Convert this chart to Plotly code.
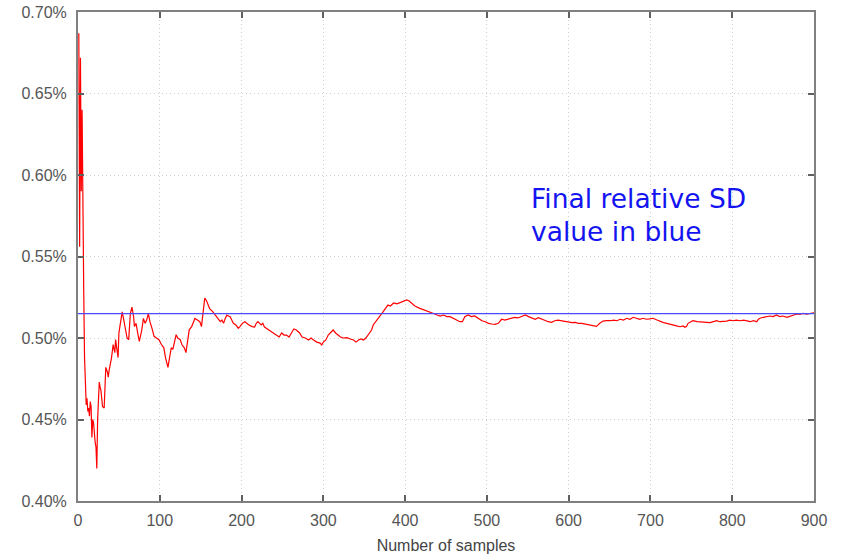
import plotly.graph_objects as go

samples = [
    1, 2, 3, 4, 5, 6, 7, 8, 9, 10,
    11, 12, 13, 14, 15, 16, 17, 18, 19, 20,
    21, 22, 23, 24, 25, 26, 27, 28, 30, 32,
    34, 36, 37, 38, 41, 43, 45, 46, 47, 49,
    50, 52, 54, 56, 58, 60, 62, 64, 66, 68,
    69, 71, 73, 75, 78, 80, 82, 84, 86, 88,
    91, 93, 96, 99, 102, 105, 107, 110, 112, 114,
    116, 118, 120, 122, 125, 127, 130, 132, 134, 136,
    139, 141, 143, 146, 149, 151, 153, 155, 157, 159,
    161, 165, 168, 170, 172, 174, 176, 178, 180, 182,
    184, 186, 188, 190, 193, 196, 198, 201, 204, 207,
    209, 213, 216, 218, 220, 224, 226, 228, 230, 234,
    238, 243, 246, 249, 252, 255, 258, 261, 264, 267,
    271, 274, 278, 282, 285, 288, 292, 296, 298, 300,
    303, 306, 309, 312, 315, 318, 321, 324, 329, 333,
    337, 340, 343, 346, 349, 352, 355, 357, 359, 361,
    364, 367, 370, 373, 377, 379, 382, 386, 390, 394,
    398, 402, 405, 408, 412, 418, 424, 430, 434, 439,
    443, 447, 451, 455, 459, 463, 467, 470, 473, 477,
    481, 485, 489, 494, 498, 502, 506, 510, 514, 518,
    522, 526, 530, 534, 538, 543, 547, 551, 555, 559,
    563, 567, 571, 575, 579, 583, 587, 591, 596, 600,
    604, 608, 612, 616, 620, 624, 628, 631, 634, 638,
    642, 646, 651, 655, 659, 663, 667, 671, 675, 679,
    683, 687, 691, 695, 699, 703, 708, 712, 716, 720,
    724, 728, 732, 736, 740, 742, 744, 746, 749, 752,
    757, 761, 765, 769, 773, 777, 781, 785, 789, 793,
    797, 801, 805, 810, 814, 818, 822, 826, 830, 832,
    834, 838, 842, 846, 850, 854, 858, 862, 867, 871,
    875, 879, 883, 887, 891, 895, 900,
]

rel_sd = [
    0.687, 0.556, 0.672, 0.590, 0.640, 0.556, 0.529, 0.488, 0.462, 0.459,
    0.463, 0.455, 0.457, 0.452, 0.461, 0.458, 0.439, 0.450, 0.448, 0.437,
    0.436, 0.433, 0.420, 0.450, 0.468, 0.473, 0.470, 0.468, 0.458, 0.457,
    0.482, 0.479, 0.476, 0.480, 0.488, 0.496, 0.491, 0.499, 0.495, 0.488,
    0.503, 0.509, 0.516, 0.511, 0.505, 0.500, 0.499, 0.515, 0.519, 0.513,
    0.507, 0.509, 0.503, 0.498, 0.505, 0.512, 0.509, 0.511, 0.515, 0.510,
    0.505, 0.501, 0.500, 0.499, 0.496, 0.494, 0.488, 0.482, 0.488, 0.494,
    0.493, 0.497, 0.502, 0.500, 0.499, 0.496, 0.494, 0.491, 0.499, 0.505,
    0.507, 0.509, 0.512, 0.511, 0.510, 0.507, 0.515, 0.5245, 0.523, 0.520,
    0.518, 0.516, 0.514, 0.513, 0.511, 0.510, 0.511, 0.509, 0.512, 0.514,
    0.5135, 0.513, 0.511, 0.509, 0.508, 0.506, 0.507, 0.509, 0.510, 0.5086,
    0.508, 0.507, 0.5067, 0.509, 0.510, 0.508, 0.509, 0.5067, 0.506, 0.505,
    0.5037, 0.5018, 0.5006, 0.5031, 0.5018, 0.5018, 0.5006, 0.5031, 0.5055, 0.5049,
    0.5031, 0.5006, 0.500, 0.4988, 0.500, 0.4988, 0.4975, 0.4969, 0.4957, 0.4975,
    0.4988, 0.5018, 0.5037, 0.5049, 0.5031, 0.5018, 0.5006, 0.500, 0.5002, 0.4994,
    0.4988, 0.4975, 0.4988, 0.4994, 0.4988, 0.500, 0.5018, 0.5037, 0.5049, 0.508,
    0.5098, 0.5123, 0.5141, 0.516, 0.5184, 0.5202, 0.5196, 0.5215, 0.5209, 0.5217,
    0.5223, 0.5233, 0.5227, 0.5213, 0.5196, 0.5182, 0.5172, 0.5161, 0.5152, 0.5141,
    0.5135, 0.5141, 0.5131, 0.5131, 0.5121, 0.511, 0.510, 0.510, 0.5131, 0.5141,
    0.5131, 0.5135, 0.5121, 0.5106, 0.510, 0.509, 0.5086, 0.5084, 0.509, 0.5115,
    0.511, 0.5115, 0.5121, 0.5127, 0.5123, 0.5131, 0.5141, 0.5131, 0.5121, 0.5115,
    0.5125, 0.5115, 0.5106, 0.510, 0.5096, 0.5106, 0.511, 0.5106, 0.510, 0.5096,
    0.5094, 0.5096, 0.509, 0.509, 0.5086, 0.5084, 0.508, 0.5077, 0.5071, 0.509,
    0.5104, 0.5107, 0.5106, 0.511, 0.5106, 0.5115, 0.511, 0.5121, 0.5115, 0.5127,
    0.5121, 0.5115, 0.5121, 0.5115, 0.5117, 0.5121, 0.511, 0.510, 0.5094, 0.509,
    0.5086, 0.508, 0.5074, 0.5069, 0.5074, 0.5066, 0.5071, 0.509, 0.510, 0.5106,
    0.510, 0.510, 0.5096, 0.5096, 0.5094, 0.510, 0.5106, 0.510, 0.5101, 0.5104,
    0.511, 0.5106, 0.511, 0.5106, 0.511, 0.5106, 0.510, 0.5106, 0.510, 0.5115,
    0.5121, 0.5127, 0.5131, 0.5135, 0.5131, 0.5141, 0.5131, 0.5135, 0.5127, 0.5135,
    0.5141, 0.5147, 0.5147, 0.5151, 0.5147, 0.5151, 0.5155,
]

final_sd = 0.515
x_extent = [0, 900]
y_ticks = [0.40, 0.45, 0.50, 0.55, 0.60, 0.65, 0.70]
x_ticks = [0, 100, 200, 300, 400, 500, 600, 700, 800, 900]
note_lines = ["Final relative SD", "value in blue"]
x_title = "Number of samples"

fig = go.Figure()
fig.add_trace(go.Scatter(
    x=samples, y=rel_sd, mode="lines",
    line=dict(color="#ff0000", width=1.2), showlegend=False, hoverinfo="skip",
))
fig.add_trace(go.Scatter(
    x=x_extent, y=[final_sd, final_sd], mode="lines",
    line=dict(color="#4a4aff", width=1.3), showlegend=False, hoverinfo="skip",
))

axis_common = dict(
    showline=True, linecolor="#808080", linewidth=2, mirror="allticks",
    ticks="inside", ticklen=6, tickwidth=1.5, tickcolor="#606060",
    showgrid=True, gridcolor="#cfcfcf", griddash="1px,3px", gridwidth=1,
    zeroline=False, automargin=False,
    tickfont=dict(family="Liberation Sans, Arial, sans-serif", size=16, color="#555555"),
)

fig.update_xaxes(
    range=[0, 900], tickvals=x_ticks, ticktext=[str(v) for v in x_ticks],
    title=dict(text=x_title,
               font=dict(family="Liberation Sans, Arial, sans-serif", size=16, color="#444444")),
    ticklabelstandoff=4,
    **axis_common,
)
fig.update_yaxes(
    range=[0.40, 0.70], tickvals=y_ticks, ticktext=[f"{v:.2f}%" for v in y_ticks],
    ticklabelstandoff=6,
    **axis_common,
)

note_font = dict(family="DejaVu Sans, Verdana, sans-serif", size=26.5, color="#1414f0")
fig.add_annotation(
    x=552, y=0.5853, xref="x", yref="y", text=note_lines[0], showarrow=False,
    xanchor="left", yanchor="middle", align="left", font=note_font,
)
fig.add_annotation(
    x=552, y=0.5656, xref="x", yref="y", text=note_lines[1], showarrow=False,
    xanchor="left", yanchor="middle", align="left", font=note_font,
)

fig.update_layout(
    width=844, height=554,
    margin=dict(l=78, r=30, t=12, b=53),
    plot_bgcolor="white", paper_bgcolor="white",
)

fig.write_html("out.html")
